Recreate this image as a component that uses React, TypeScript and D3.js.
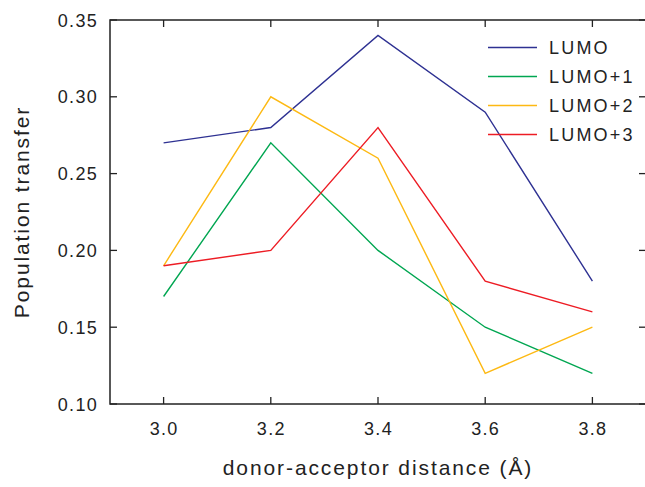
import React, { useEffect, useRef } from 'react';
import * as d3 from 'd3';

const distances = [3.0, 3.2, 3.4, 3.6, 3.8];
const seriesNames = ['LUMO', 'LUMO+1', 'LUMO+2', 'LUMO+3'];
const lumo = [0.27, 0.28, 0.34, 0.29, 0.18];
const lumo1 = [0.17, 0.27, 0.2, 0.15, 0.12];
const lumo2 = [0.19, 0.3, 0.26, 0.12, 0.15];
const lumo3 = [0.19, 0.2, 0.28, 0.18, 0.16];
const yTicks = [0.1, 0.15, 0.2, 0.25, 0.3, 0.35];
const colors = ['#2e3192', '#00a651', '#fdb913', '#ed1c24'];

const App = () => {
  const ref = useRef<SVGSVGElement>(null);

  useEffect(() => {
    const W = 645;
    const H = 487;
    const margin = { top: 20, right: -1, bottom: 83, left: 110 };
    const svg = d3.select(ref.current);
    svg.selectAll('*').remove();
    const font = 'Liberation Sans, Arial, sans-serif';

    const x = d3.scaleLinear().domain([2.9, 3.9]).range([margin.left, W - margin.right]);
    const y = d3.scaleLinear().domain([0.1, 0.35]).range([H - margin.bottom, margin.top]);

    const g = svg.append('g');

    // frame
    g.append('rect')
      .attr('x', x(2.9))
      .attr('y', y(0.35))
      .attr('width', x(3.9) - x(2.9))
      .attr('height', y(0.1) - y(0.35))
      .attr('fill', 'none')
      .attr('stroke', '#222')
      .attr('stroke-width', 1.5);

    const tickLen = 7;
    // x ticks (bottom and top, inward)
    distances.forEach((d) => {
      g.append('line').attr('x1', x(d)).attr('x2', x(d))
        .attr('y1', y(0.1)).attr('y2', y(0.1) - tickLen)
        .attr('stroke', '#222').attr('stroke-width', 1.3);
      g.append('line').attr('x1', x(d)).attr('x2', x(d))
        .attr('y1', y(0.35)).attr('y2', y(0.35) + tickLen)
        .attr('stroke', '#222').attr('stroke-width', 1.3);
      g.append('text')
        .attr('x', x(d) + 0.5)
        .attr('y', y(0.1) + 31)
        .attr('text-anchor', 'middle')
        .attr('font-family', font)
        .attr('font-size', 18)
        .attr('letter-spacing', 1.3)
        .attr('fill', '#222')
        .text(d3.format('.1f')(d));
    });

    // y ticks (left and right, inward)
    yTicks.forEach((v) => {
      g.append('line').attr('x1', x(2.9)).attr('x2', x(2.9) + tickLen)
        .attr('y1', y(v)).attr('y2', y(v))
        .attr('stroke', '#222').attr('stroke-width', 1.3);
      g.append('line').attr('x1', x(3.9)).attr('x2', x(3.9) - tickLen)
        .attr('y1', y(v)).attr('y2', y(v))
        .attr('stroke', '#222').attr('stroke-width', 1.3);
      g.append('text')
        .attr('x', x(2.9) - 12)
        .attr('y', y(v) + 6.5)
        .attr('text-anchor', 'end')
        .attr('font-family', font)
        .attr('font-size', 18)
        .attr('letter-spacing', 1.3)
        .attr('fill', '#222')
        .text(d3.format('.2f')(v));
    });

    // lines
    const allSeries = [lumo, lumo1, lumo2, lumo3];
    const line = d3.line<number>()
      .x((d, i) => x(distances[i]))
      .y((d) => y(d));
    allSeries.forEach((s, i) => {
      g.append('path')
        .datum(s)
        .attr('d', line)
        .attr('fill', 'none')
        .attr('stroke', colors[i])
        .attr('stroke-width', 1.4);
    });

    // legend
    seriesNames.forEach((name, i) => {
      const ly = 47.5 + i * 29;
      g.append('line')
        .attr('x1', 488).attr('x2', 537)
        .attr('y1', ly).attr('y2', ly)
        .attr('stroke', colors[i])
        .attr('stroke-width', 1.6);
      g.append('text')
        .attr('x', 549)
        .attr('y', ly + 6.5)
        .attr('font-family', font)
        .attr('font-size', 18)
        .attr('letter-spacing', 2.2)
        .attr('fill', '#222')
        .text(name);
    });

    // axis titles
    g.append('text')
      .attr('x', (x(2.9) + x(3.9)) / 2)
      .attr('y', 475)
      .attr('text-anchor', 'middle')
      .attr('font-family', font)
      .attr('font-size', 21)
      .attr('letter-spacing', 1.9)
      .attr('fill', '#222')
      .text('donor-acceptor distance (Å)');

    g.append('text')
      .attr('transform', `translate(29,${(y(0.1) + y(0.35)) / 2}) rotate(-90)`)
      .attr('text-anchor', 'middle')
      .attr('font-family', font)
      .attr('font-size', 21)
      .attr('letter-spacing', 1.9)
      .attr('fill', '#222')
      .text('Population transfer');
  }, []);

  return (
    <div style={{ position: 'absolute', left: 0, top: 0 }}>
      <svg ref={ref} width={645} height={487} style={{ display: 'block', background: '#fff' }} />
    </div>
  );
};

export default App;
